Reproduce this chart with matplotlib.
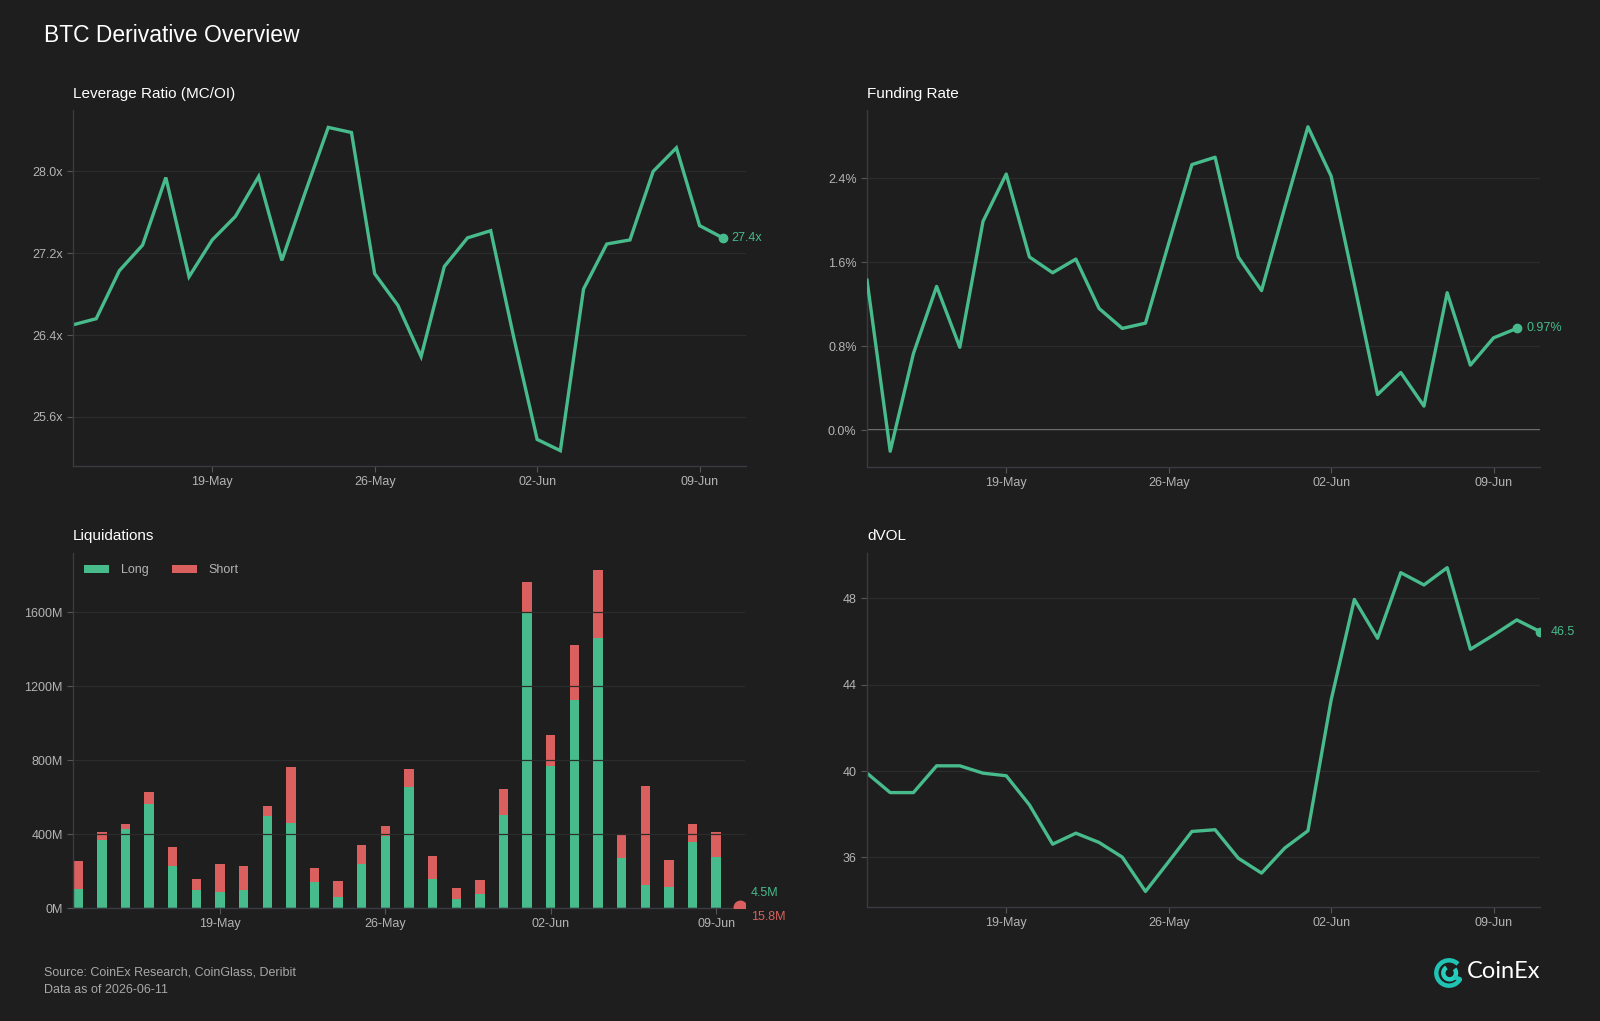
import matplotlib

matplotlib.use("Agg")
import matplotlib.dates as mdates
import matplotlib.pyplot as plt
import numpy as np
import pandas as pd
from matplotlib.patches import Arc
from matplotlib.ticker import FuncFormatter, MultipleLocator

# ---- data ----
dates = pd.date_range("2026-05-13", "2026-06-10", freq="D")
dvol_dates = pd.date_range("2026-05-13", "2026-06-11", freq="D")

leverage = [26.50, 26.56, 27.03, 27.28, 27.94, 26.97, 27.33, 27.56, 27.95, 27.13,
            27.79, 28.43, 28.38, 27.00, 26.69, 26.19, 27.07, 27.35, 27.42, 26.37,
            25.38, 25.27, 26.85, 27.29, 27.33, 28.00, 28.23, 27.47, 27.35]

funding = [1.43, -0.20, 0.73, 1.37, 0.79, 1.99, 2.44, 1.65, 1.50, 1.63,
           1.16, 0.97, 1.02, 1.78, 2.53, 2.60, 1.65, 1.33, 2.12, 2.89,
           2.42, 1.39, 0.34, 0.55, 0.23, 1.31, 0.62, 0.88, 0.97]

liq_long = [101, 366, 429, 560, 229, 95, 86, 95, 495, 458,
            139, 61, 236, 389, 654, 157, 50, 74, 504, 1595,
            769, 1126, 1459, 270, 124, 114, 355, 276, 4.5]
liq_short = [151, 43, 23, 67, 101, 64, 150, 134, 55, 304,
             75, 87, 103, 52, 99, 124, 60, 76, 141, 169,
             168, 297, 370, 123, 537, 147, 97, 137, 15.8]

dvol = [39.90, 39.00, 39.00, 40.24, 40.24, 39.90, 39.78, 38.43, 36.61, 37.12,
        36.69, 36.01, 34.42, 35.80, 37.20, 37.28, 35.96, 35.27, 36.43, 37.23,
        43.29, 47.95, 46.15, 49.19, 48.62, 49.42, 45.64, 46.30, 47.00, 46.46]

# ---- style ----
BG = "#1e1e1e"
GREEN = "#48bb8c"
RED = "#d9605e"
GRID = "#2c2c2c"
SPINE = "#3a3a42"
TICK = "#b4b4b4"
FONT = ["Liberation Sans", "DejaVu Sans"]

plt.rcParams["font.family"] = FONT

fig = plt.figure(figsize=(16, 10.21), dpi=100, facecolor=BG)

W, H = 1600, 1021


def box(left, top, right, bottom):
    return [left / W, 1 - bottom / H, (right - left) / W, (bottom - top) / H]


def style(ax, title, title_y):
    ax.set_facecolor(BG)
    for s in ("top", "right"):
        ax.spines[s].set_visible(False)
    for s in ("left", "bottom"):
        ax.spines[s].set_color(SPINE)
        ax.spines[s].set_linewidth(1.0)
    ax.tick_params(colors="#555555", labelcolor=TICK, labelsize=9, length=4, width=0.8)
    ax.grid(axis="y", color=GRID, linewidth=0.9)
    ax.grid(axis="x", visible=False)
    ax.xaxis.set_major_locator(mdates.WeekdayLocator(byweekday=mdates.TU))
    ax.xaxis.set_major_formatter(mdates.DateFormatter("%d-%b"))
    pos = ax.get_position()
    fig.text(pos.x0, 1 - title_y / H, title, color="white", fontsize=11, va="center", ha="left")


fig.text(44 / W, 1 - 35 / H, "BTC Derivative Overview", color="white", fontsize=16.5,
         va="center", ha="left")

# Leverage ratio
ax1 = fig.add_axes(box(73, 110, 746, 466))
style(ax1, "Leverage Ratio (MC/OI)", 94)
ax1.plot(dates, leverage, color=GREEN, lw=2.4, solid_joinstyle="miter")
ax1.plot(dates[-1], leverage[-1], "o", color=GREEN, ms=6)
ax1.annotate(f"{leverage[-1]:.1f}x", (dates[-1], leverage[-1]), xytext=(9, 0),
             textcoords="offset pixels", color=GREEN, fontsize=9, va="center")
ax1.set_ylim(25.12, 28.6)
ax1.yaxis.set_major_locator(MultipleLocator(0.8))
ax1.yaxis.set_major_formatter(FuncFormatter(lambda v, p: f"{v:.1f}x"))
ax1.set_xlim(pd.Timestamp("2026-05-13"), pd.Timestamp("2026-06-11"))

# Funding rate
ax2 = fig.add_axes(box(867, 110, 1540, 467))
style(ax2, "Funding Rate", 94)
ax2.axhline(0, color="#8a8a8a", lw=1.2, zorder=1)
ax2.plot(dates, funding, color=GREEN, lw=2.4, zorder=3)
ax2.plot(dates[-1], funding[-1], "o", color=GREEN, ms=6, zorder=3)
ax2.annotate(f"{funding[-1]:.2f}%", (dates[-1], funding[-1]), xytext=(10, 0),
             textcoords="offset pixels", color=GREEN, fontsize=9, va="center")
ax2.set_ylim(-0.35, 3.05)
ax2.yaxis.set_major_locator(MultipleLocator(0.8))
ax2.yaxis.set_major_formatter(FuncFormatter(lambda v, p: f"{v:.1f}%"))
ax2.set_xlim(pd.Timestamp("2026-05-13"), pd.Timestamp("2026-06-11"))

# Liquidations
ax3 = fig.add_axes(box(73, 553, 745, 908))
style(ax3, "Liquidations", 536)
ax3.bar(dates, liq_long, width=0.4, color=GREEN, label="Long", zorder=1)
ax3.bar(dates, liq_short, width=0.4, bottom=liq_long, color=RED, label="Short", zorder=1)
ax3.set_axisbelow(False)
ax3.plot(dates[-1], liq_long[-1], "o", color=RED, ms=9, zorder=3)
ax3.annotate(f"{liq_long[-1]:.1f}M", (dates[-1], 0), xytext=(11, 15),
             textcoords="offset pixels", color=GREEN, fontsize=9, va="center",
             annotation_clip=False)
ax3.annotate(f"{liq_short[-1]:.1f}M", (dates[-1], 0), xytext=(11, -9),
             textcoords="offset pixels", color=RED, fontsize=9, va="center",
             annotation_clip=False)
ax3.set_ylim(0, 1920)
ax3.yaxis.set_major_locator(MultipleLocator(400))
ax3.yaxis.set_major_formatter(FuncFormatter(lambda v, p: f"{v:.0f}M"))
ax3.set_xlim(pd.Timestamp("2026-05-13") - pd.Timedelta(hours=5.3),
             pd.Timestamp("2026-06-10") + pd.Timedelta(hours=5.3))
leg = ax3.legend(loc="upper left", ncol=2, frameon=False, fontsize=9,
                 handlelength=2.0, handleheight=0.6, handletextpad=0.9,
                 columnspacing=1.9, bbox_to_anchor=(0.0, 1.0))
for t in leg.get_texts():
    t.set_color(TICK)

# dVOL
ax4 = fig.add_axes(box(867, 553, 1540, 907))
style(ax4, "dVOL", 536)
ax4.plot(dvol_dates, dvol, color=GREEN, lw=2.4)
ax4.plot(dvol_dates[-1], dvol[-1], "o", color=GREEN, ms=6)
ax4.annotate(f"{dvol[-1]:.1f}", (dvol_dates[-1], dvol[-1]), xytext=(11, 0),
             textcoords="offset pixels", color=GREEN, fontsize=9, va="center",
             annotation_clip=False)
ax4.set_ylim(33.7, 50.1)
ax4.yaxis.set_major_locator(MultipleLocator(4))
ax4.yaxis.set_major_formatter(FuncFormatter(lambda v, p: f"{v:.0f}"))
ax4.set_xlim(pd.Timestamp("2026-05-13"), pd.Timestamp("2026-06-11"))

# footer
fig.text(44 / W, 1 - 972 / H, "Source: CoinEx Research, CoinGlass, Deribit",
         color="#a8a8a8", fontsize=9, va="center", ha="left")
fig.text(44 / W, 1 - 990 / H, "Data as of 2026-06-11",
         color="#a8a8a8", fontsize=9, va="center", ha="left")

# logo
lax = fig.add_axes(box(1433, 957, 1465, 989))
lax.set_xlim(-1.2, 1.2)
lax.set_ylim(-1.2, 1.2)
lax.set_aspect("equal")
lax.axis("off")
lax.add_patch(Arc((0, 0), 1.9, 1.9, theta1=45, theta2=330, color="#1fc4b4", lw=3.2))
lax.add_patch(Arc((0.05, 0), 0.95, 0.95, theta1=120, theta2=400, color="#27d0bd", lw=3.2))
lax.plot([0.82, 0.5], [-0.47, -0.35], color="#1fc4b4", lw=3.2, solid_capstyle="round")
fig.text(1467 / W, 1 - 971 / H, "CoinEx", color="white", fontsize=17,
         family=["Lato", "DejaVu Sans"], va="center", ha="left")

fig.savefig("out.png", dpi=100, facecolor=BG)
